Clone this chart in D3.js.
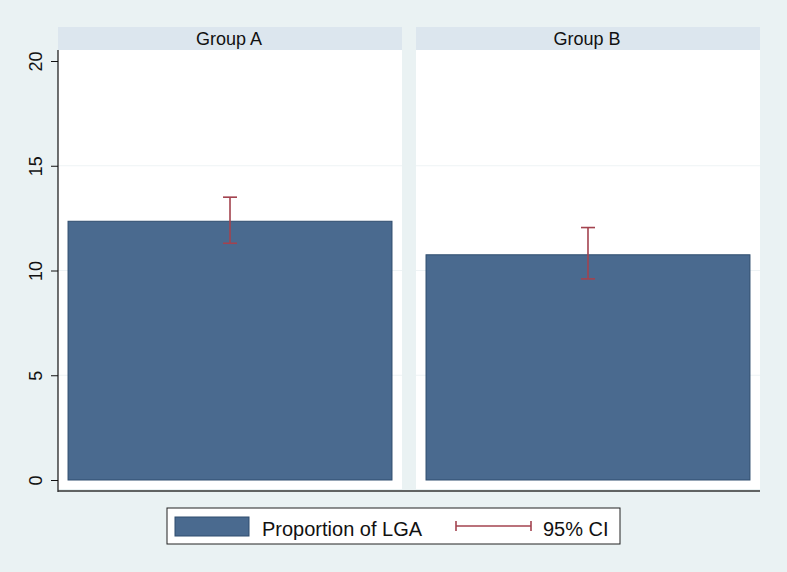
<!DOCTYPE html>
<head>
  <meta charset="utf-8">
  <script src="https://d3js.org/d3.v7.min.js"></script>
  <style>
    body { margin:0; background:#eaf2f3; font-family:"Liberation Sans", Arial, sans-serif; }
    svg { display:block; }
  </style>
</head>
<body>
  <script>
    var width = 787, height = 572;

    var groups = ["Group A", "Group B"];
    var proportion = [12.35, 10.75];
    var ciLow = [11.3, 9.6];
    var ciHigh = [13.5, 12.05];
    var yTicks = [0, 5, 10, 15, 20];

    var barFill = "#4a6a8f", barStroke = "#2f4d6e", ciColor = "#a3434f";

    var svg = d3.select("body").append("svg")
      .attr("width", width)
      .attr("height", height);

    svg.append("rect").attr("width", width).attr("height", height).attr("fill", "#eaf2f3");

    var panelX = d3.scaleBand().domain(groups).range([58, 760]).paddingInner(0.039);
    var yScale = d3.scaleLinear().domain([0, 20]).range([480, 61]);
    var innerX = d3.scaleBand().domain(["Proportion of LGA"]).range([0, panelX.bandwidth()])
      .paddingOuter(0.031);

    var data = groups.map(function(g, i) {
      return { group: g, value: proportion[i], lo: ciLow[i], hi: ciHigh[i] };
    });

    var panels = svg.selectAll("g.panel")
      .data(data)
      .enter()
      .append("g")
      .attr("class", "panel")
      .attr("transform", function(d) { return "translate(" + panelX(d.group) + ",0)"; });

    // strip
    panels.append("rect")
      .attr("x", 0).attr("y", 27)
      .attr("width", panelX.bandwidth()).attr("height", 23)
      .attr("fill", "#dce6ee");
    panels.append("text")
      .attr("x", panelX.bandwidth() / 2 - 1).attr("y", 44.5)
      .attr("text-anchor", "middle")
      .attr("font-size", 18)
      .attr("fill", "#111")
      .text(function(d) { return d.group; });

    // plot area
    panels.append("rect")
      .attr("x", 0).attr("y", 50)
      .attr("width", panelX.bandwidth()).attr("height", 439)
      .attr("fill", "#ffffff");

    // gridlines
    panels.selectAll("line.grid")
      .data([5, 10, 15])
      .enter()
      .append("line")
      .attr("x1", 0).attr("x2", panelX.bandwidth())
      .attr("y1", function(d) { return yScale(d); })
      .attr("y2", function(d) { return yScale(d); })
      .attr("stroke", "#eef3f5").attr("stroke-width", 1);

    // bars
    panels.append("rect")
      .attr("x", innerX("Proportion of LGA"))
      .attr("y", function(d) { return yScale(d.value); })
      .attr("width", innerX.bandwidth())
      .attr("height", function(d) { return yScale(0) - yScale(d.value); })
      .attr("fill", barFill)
      .attr("stroke", barStroke)
      .attr("stroke-width", 1);

    // CI
    var cx = innerX("Proportion of LGA") + innerX.bandwidth() / 2;
    panels.append("line")
      .attr("x1", cx).attr("x2", cx)
      .attr("y1", function(d) { return yScale(d.lo); })
      .attr("y2", function(d) { return yScale(d.hi); })
      .attr("stroke", ciColor).attr("stroke-width", 1.6);
    panels.selectAll("line.cap")
      .data(function(d) { return [d.lo, d.hi]; })
      .enter()
      .append("line")
      .attr("x1", cx - 7).attr("x2", cx + 7)
      .attr("y1", function(d) { return yScale(d); })
      .attr("y2", function(d) { return yScale(d); })
      .attr("stroke", ciColor).attr("stroke-width", 1.6);

    // y axis
    var yAxis = svg.append("g")
      .attr("transform", "translate(58,0)")
      .call(d3.axisLeft(yScale).tickValues(yTicks).tickSize(7));
    yAxis.select(".domain").remove();
    yAxis.append("line").attr("x1", 0).attr("x2", 0).attr("y1", 50).attr("y2", 492)
      .attr("stroke", "#111").attr("stroke-width", 1.2);
    yAxis.selectAll(".tick line").attr("stroke", "#111");
    yAxis.selectAll(".tick text")
      .attr("font-size", 18)
      .attr("font-family", "Liberation Sans, Arial, sans-serif")
      .attr("fill", "#111")
      .attr("transform", "rotate(-90)")
      .attr("x", 0).attr("y", -20.5)
      .attr("dy", null)
      .attr("text-anchor", "middle")
      .attr("dominant-baseline", "middle");

    // x axis line
    svg.append("line")
      .attr("x1", 58).attr("x2", 760).attr("y1", 491).attr("y2", 491)
      .attr("stroke", "#333").attr("stroke-width", 1.4);

    // legend
    var legend = svg.append("g").attr("transform", "translate(167,508)");
    legend.append("rect").attr("width", 453).attr("height", 36)
      .attr("fill", "#fff").attr("stroke", "#222").attr("stroke-width", 1);
    legend.append("rect").attr("x", 8).attr("y", 9).attr("width", 74).attr("height", 19)
      .attr("fill", barFill).attr("stroke", barStroke);
    legend.append("text").attr("x", 95).attr("y", 27.5).attr("font-size", 20).attr("fill", "#111")
      .text("Proportion of LGA");
    legend.append("line").attr("x1", 289).attr("x2", 364).attr("y1", 18).attr("y2", 18)
      .attr("stroke", ciColor).attr("stroke-width", 1.6);
    legend.selectAll("line.lcap").data([289, 364]).enter().append("line")
      .attr("x1", function(d) { return d; }).attr("x2", function(d) { return d; })
      .attr("y1", 13).attr("y2", 23)
      .attr("stroke", ciColor).attr("stroke-width", 1.6);
    legend.append("text").attr("x", 376).attr("y", 27.5).attr("font-size", 20).attr("fill", "#111")
      .text("95% CI");
  </script>
</body>
